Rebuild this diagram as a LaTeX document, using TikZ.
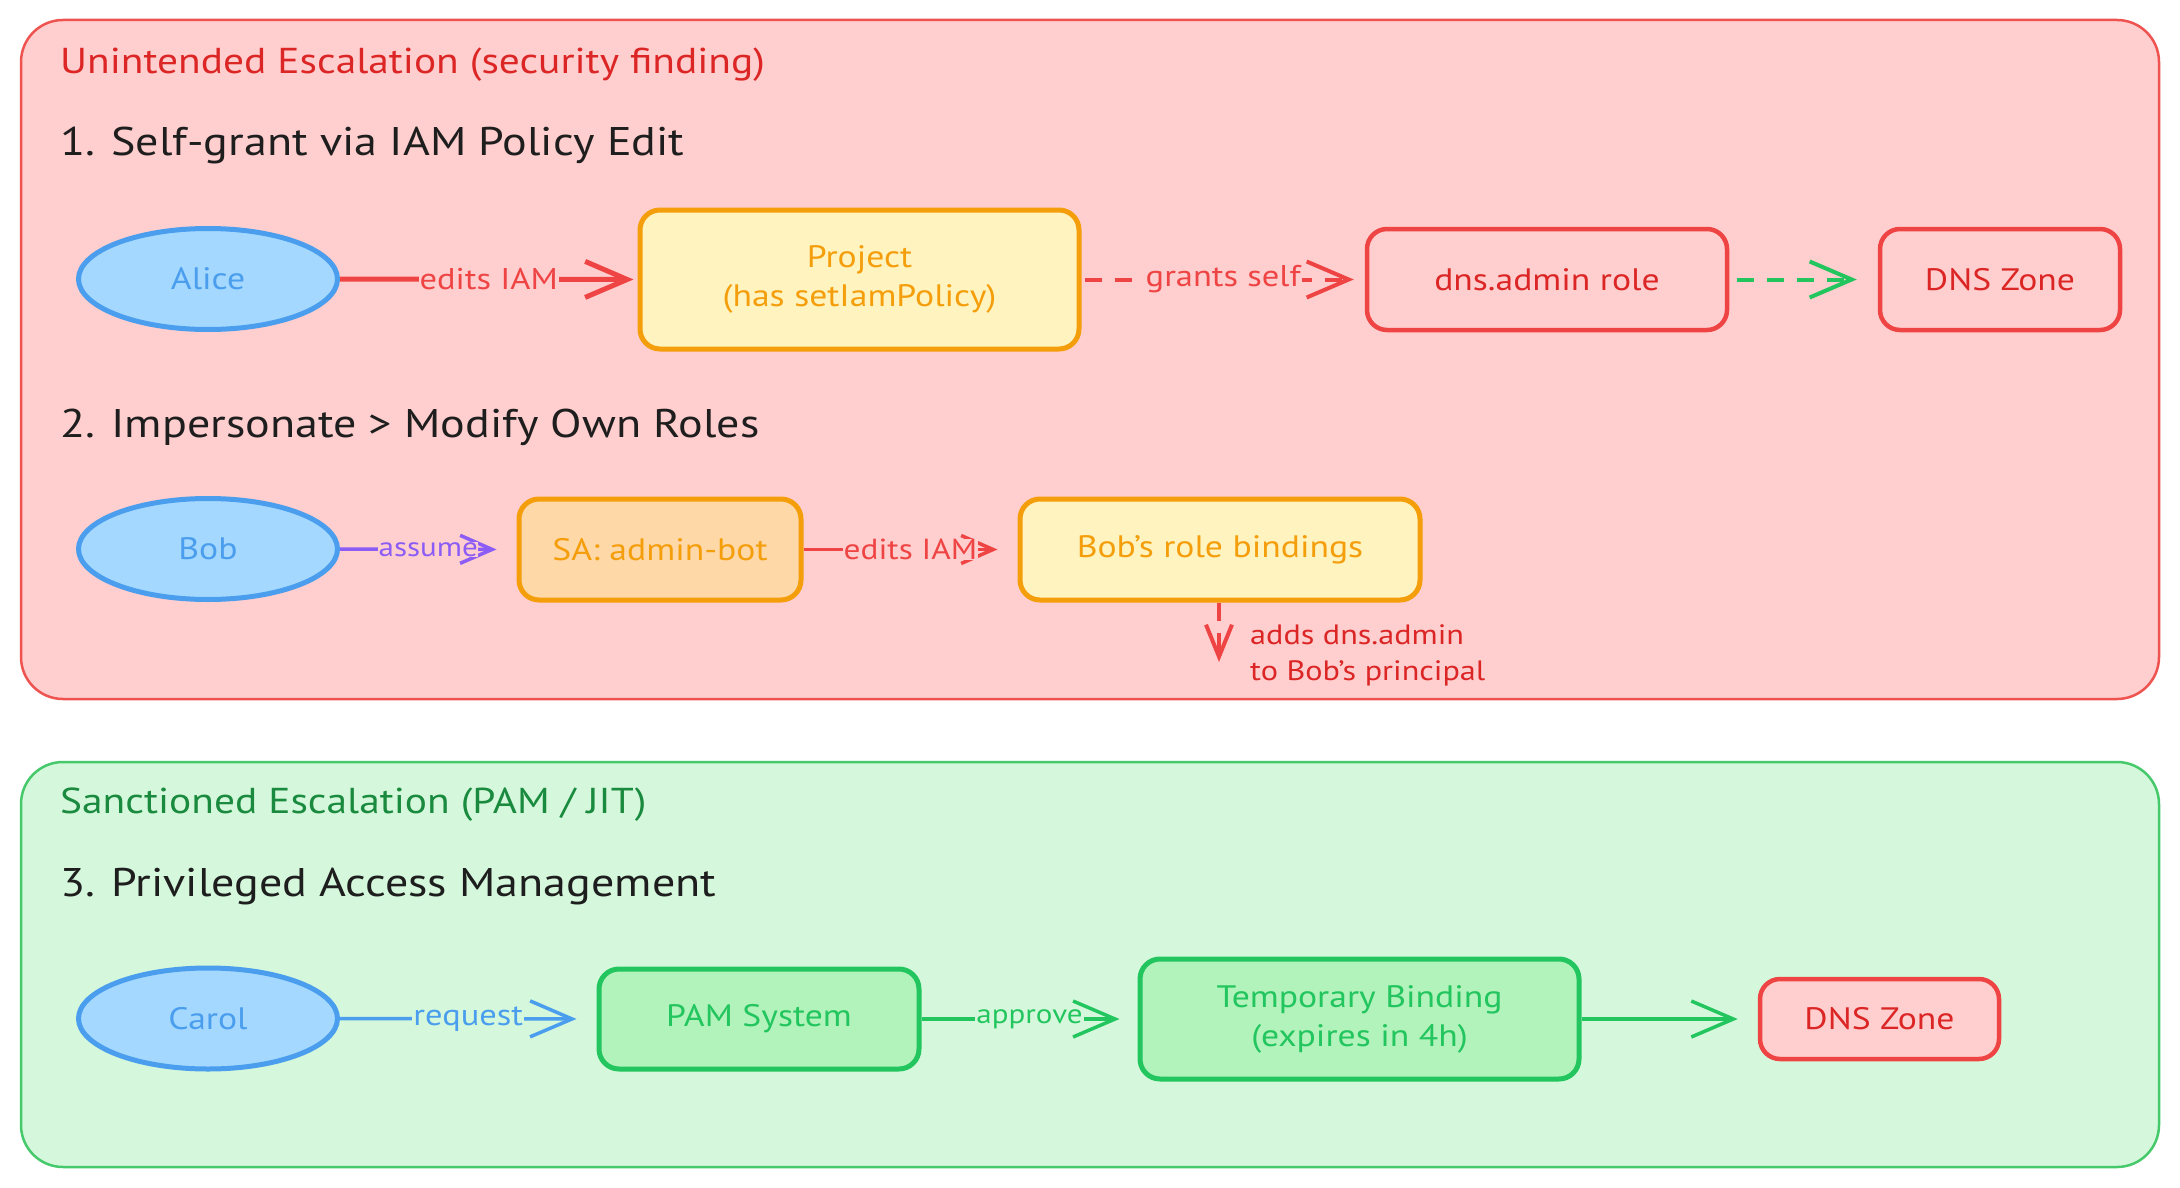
\documentclass[tikz,border=0pt]{standalone}
\usepackage{fontspec}
\setmainfont[FakeStretch=1.15]{PT Sans}
\usetikzlibrary{arrows.meta,shapes.geometric}
\definecolor{redbg}{HTML}{FFCECE}
\definecolor{redline}{HTML}{EF5350}
\definecolor{redstroke}{HTML}{EF4444}
\definecolor{redtext}{HTML}{DC2626}
\definecolor{greenbg}{HTML}{D5F8DC}
\definecolor{greenline}{HTML}{45C96B}
\definecolor{greenstroke}{HTML}{22C55E}
\definecolor{greentitle}{HTML}{1A8A3E}
\definecolor{greenfill}{HTML}{B2F2BB}
\definecolor{bluefill}{HTML}{A5D8FF}
\definecolor{bluestroke}{HTML}{4A9EED}
\definecolor{orangestroke}{HTML}{F59E0B}
\definecolor{yellowfill}{HTML}{FFF3BF}
\definecolor{orangefill}{HTML}{FFD8A8}
\definecolor{purple}{HTML}{8B5CF6}
\definecolor{ink}{HTML}{1E1E1E}
\tikzset{
  titletext/.style={anchor=west, inner sep=0pt, font=\fontsize{36}{42}\selectfont},
  headtext/.style={anchor=west, inner sep=0pt, text=ink, font=\fontsize{40}{46}\selectfont},
  nodetext/.style={font=\fontsize{31}{39}\selectfont, align=center, inner sep=0pt},
  actor/.style={ellipse, draw=bluestroke, fill=bluefill, line width=5pt, minimum width=259pt, minimum height=101pt, text=bluestroke, nodetext},
  boxbase/.style={rectangle, rounded corners=20pt, line width=5pt, nodetext},
  ybox/.style={boxbase, draw=orangestroke, fill=yellowfill, text=orangestroke},
  obox/.style={boxbase, draw=orangestroke, fill=orangefill, text=orangestroke},
  rbox/.style={boxbase, draw=redstroke, fill=redbg, text=redtext, line width=4.5pt},
  gbox/.style={boxbase, draw=greenstroke, fill=greenfill, text=greenstroke},
  container/.style={rounded corners=42pt, line width=2.5pt},
  lbl/.style={font=\fontsize{30}{33}\selectfont, inner sep=3pt},
  bigtip/.style={-{Straight Barb[length=42pt,width=36pt]}},
  smalltip/.style={-{Straight Barb[length=32pt,width=28pt]}},
  dashpat/.style={dash pattern=on 17pt off 13pt},
}
\begin{document}
\begin{tikzpicture}[x=1pt,y=-1pt]
\useasboundingbox (0,0) rectangle (2180,1188);
% containers
\draw[container, draw=redline, fill=redbg] (21,20) rectangle (2159,699);
\draw[container, draw=greenline, fill=greenbg] (21,762) rectangle (2159,1167);

% titles
\node[titletext, text=redtext] (t1) at (60,65) {Unintended Escalation (security finding)};
\node[headtext] (h1) at (60,146) {1. Self-grant via IAM Policy Edit};
\node[headtext] (h2) at (60,427) {2. Impersonate > Modify Own Roles};
\node[titletext, text=greentitle] (t2) at (60,805) {Sanctioned Escalation (PAM / JIT)};
\node[headtext] (h3) at (60,887) {3. Privileged Access Management};

% row 1
\node[actor] (alice) at (208,279) {Alice};
\node[ybox, minimum width=439pt, minimum height=139pt] (project) at (859.5,279.5) {Project\\(has setIamPolicy)};
\node[rbox, minimum width=360pt, minimum height=101pt] (dnsrole) at (1547,279.5) {dns.admin role};
\node[rbox, minimum width=240pt, minimum height=101pt] (dns1) at (2000,279.5) {DNS Zone};

\draw[bigtip, draw=redstroke, line width=5pt, shorten >=4pt]
  (alice.east) -- node[lbl, fill=redbg, text=redstroke, inner sep=1pt] {edits IAM} (project.west);
\draw[bigtip, draw=redstroke, line width=4pt, dashpat, shorten <=3pt, shorten >=11pt]
  (project.east) -- node[lbl, fill=redbg, text=redstroke, inner sep=1pt] {grants self} (dnsrole.west);
\draw[bigtip, draw=greenstroke, line width=4pt, dashpat, shorten <=8pt, shorten >=21pt]
  (dnsrole.east) -- (dns1.west);

% row 2
\node[actor] (bob) at (208,549) {Bob};
\node[obox, minimum width=282pt, minimum height=101pt] (sa) at (660,549.5) {SA: admin-bot};
\node[ybox, minimum width=400pt, minimum height=101pt] (bobrb) at (1220,549.5) {Bob's role bindings};

\draw[smalltip, draw=purple, line width=3.5pt, shorten >=20pt]
  (bob.east) -- node[lbl, fill=redbg, text=purple, inner sep=0.5pt, font=\fontsize{27}{31}\selectfont] {assume} (sa.west);
\draw[smalltip, draw=redstroke, line width=3.5pt, shorten >=20pt]
  (sa.east) -- node[lbl, fill=redbg, text=redstroke, inner sep=0.5pt, font=\fontsize{29}{33}\selectfont] {edits IAM} (bobrb.west);

\coordinate (addsend) at (1219,662);
\draw[-{Straight Barb[length=32pt,width=26pt]}, draw=redstroke, line width=4pt, dash pattern=on 18pt off 12pt]
  (bobrb.south -| addsend) -- (addsend);
\node[anchor=west, align=left, text=redtext, inner sep=0pt, font=\fontsize{28}{36}\selectfont] (addsnote) at (1250,655) {adds dns.admin\\to Bob's principal};

% row 3
\node[actor] (carol) at (208,1018.5) {Carol};
\node[gbox, minimum width=320pt, minimum height=100pt] (pam) at (759,1019) {PAM System};
\node[gbox, minimum width=439pt, minimum height=120pt] (temp) at (1359.5,1019) {Temporary Binding\\(expires in 4h)};
\node[rbox, minimum width=239pt, minimum height=80pt] (dns2) at (1879.5,1019) {DNS Zone};

\draw[bigtip, draw=bluestroke, line width=3.5pt, shorten >=20pt]
  (carol.east) -- node[lbl, fill=greenbg, text=bluestroke, inner sep=1pt] {request} (pam.west);
\draw[bigtip, draw=greenstroke, line width=3.5pt, shorten >=18pt]
  (pam.east) -- node[lbl, fill=greenbg, text=greenstroke, inner sep=1pt, font=\fontsize{27}{31}\selectfont] {approve} (temp.west);
\draw[bigtip, draw=greenstroke, line width=3.5pt, shorten >=20pt]
  (temp.east) -- (dns2.west);
\end{tikzpicture}
\end{document}
